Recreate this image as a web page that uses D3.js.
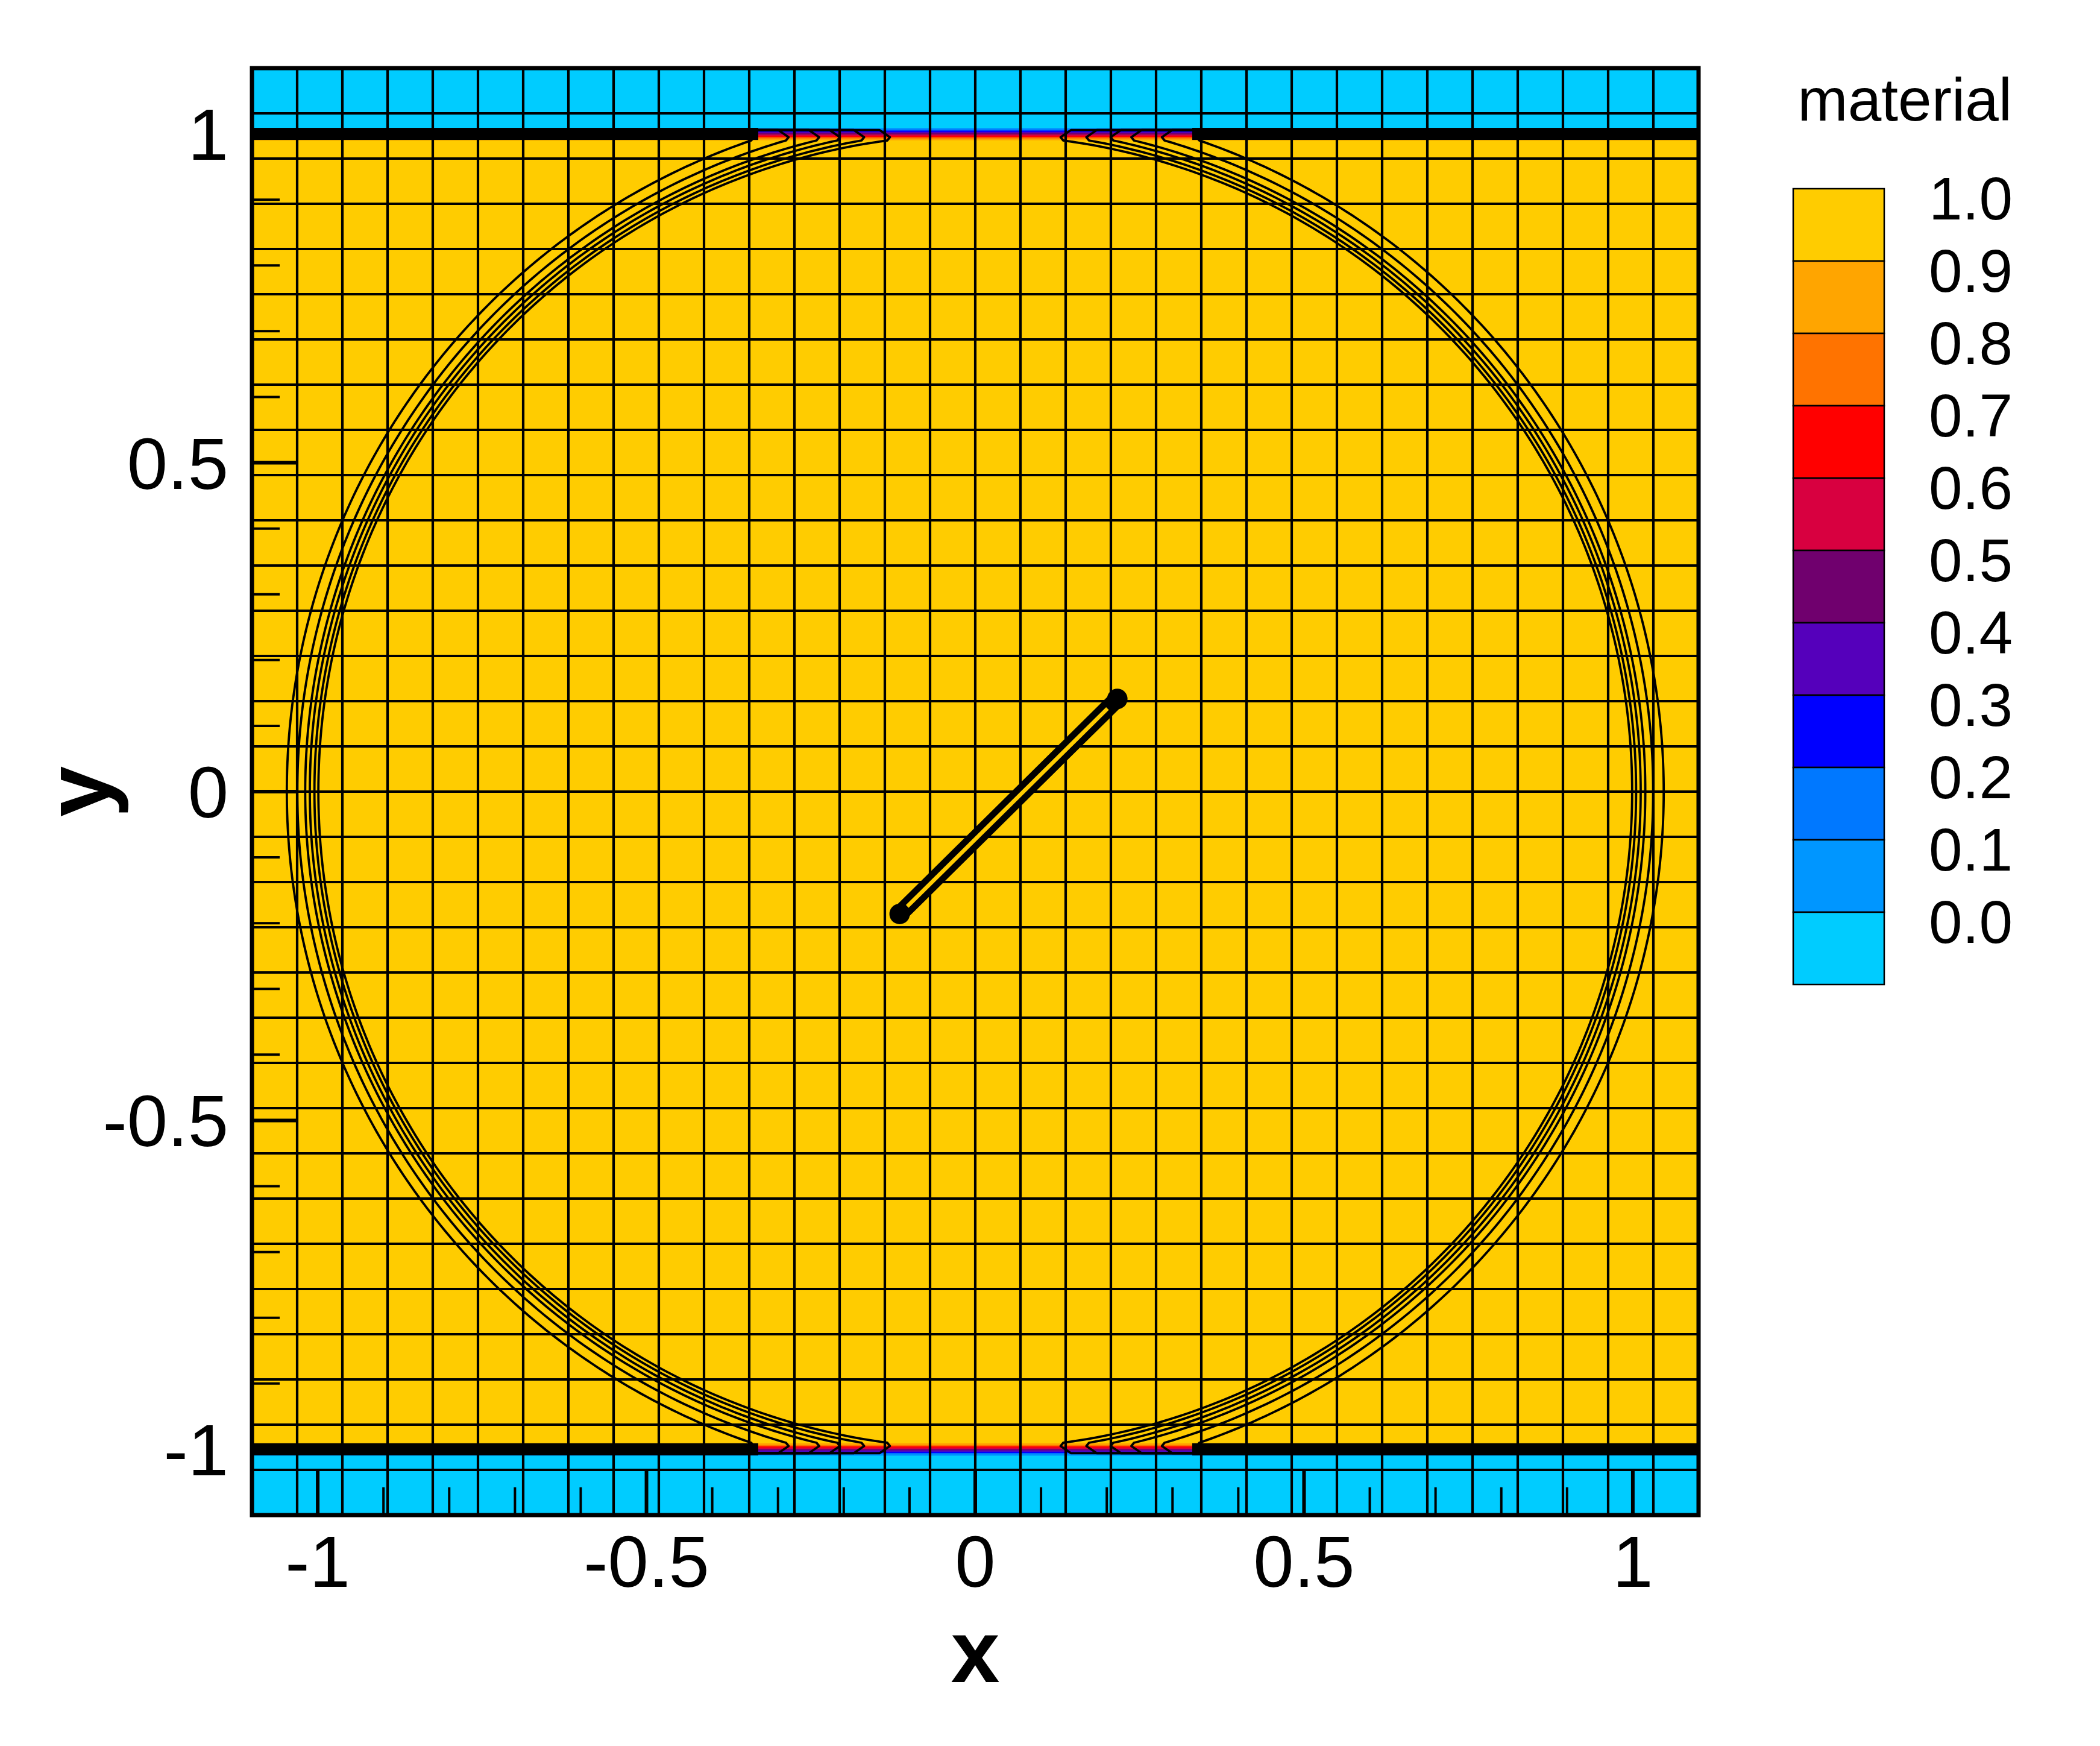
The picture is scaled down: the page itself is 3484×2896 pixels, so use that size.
<!DOCTYPE html>
<html>
<head>
<meta charset="utf-8">
<script src="https://cdn.jsdelivr.net/npm/d3@7"></script>
<style>
  html, body { margin: 0; padding: 0; background: #ffffff; }
  svg { display: block; font-family: "Liberation Sans", Arial, sans-serif; }
</style>
</head>
<body>
<svg id="chart" width="3484" height="2896"></svg>
<script>
// ---------------- data ----------------
const xDomain = [-1.1, 1.1];
const yDomain = [-1.1, 1.1];
const meshCells = 32;                       // uniform mesh, 32 x 32 cells
const xTickValues = [-1, -0.5, 0, 0.5, 1];
const xTickLabels = ["-1", "-0.5", "0", "0.5", "1"];
const yTickValues = [-1, -0.5, 0, 0.5, 1];
const yTickLabels = ["-1", "-0.5", "0", "0.5", "1"];
const minorStep = 0.1;

// material regions (value, y-range)
const regionYmin = [1.0, -1.0, -1.1];
const regionYmax = [1.1, 1.0, -1.0];
const regionValue = [0.0, 1.0, 0.0];

// contour legend
const legendLabels = ["1.0", "0.9", "0.8", "0.7", "0.6", "0.5", "0.4", "0.3", "0.2", "0.1", "0.0"];
const legendLevels = [1.0, 0.9, 0.8, 0.7, 0.6, 0.5, 0.4, 0.3, 0.2, 0.1, 0.0];
const legendColors = ["#FFCC00", "#FFA500", "#FF7300", "#FF0000", "#D80040", "#70006E",
                      "#5500BB", "#0000FF", "#0078FF", "#0096FF", "#00CCFF"];

// thin diffuse interface at the walls y = +/-1 (levels 0.1 ... 0.9, cyan side first)
const interfaceColors = ["#0096FF", "#0078FF", "#0000FF", "#5500BB", "#70006E", "#D80040", "#FF0000", "#FF7300", "#FFA500"];
const interfaceHalfWidth = 0.0092;

// circular contour lines (radius of each line)
const contourRadii = [0.999, 1.005, 1.012, 1.019, 1.031, 1.047];
const wallClipY = 0.99;       // lines turn back at the wall
const wallReturnY = 1.006;    // return branch along the wall
const wallReturnX = 0.42;
const wallBandX = 0.33;       // thick black wall band for |x| > this

// slender body in the centre
const bodyStart = [-0.115, -0.186];
const bodyEnd = [0.216, 0.141];

// ---------------- layout ----------------
const svg = d3.select("#chart");
const plot = { left: 418, top: 113, size: 2400 };
const x = d3.scaleLinear().domain(xDomain).range([plot.left, plot.left + plot.size]);
const y = d3.scaleLinear().domain(yDomain).range([plot.top + plot.size, plot.top]);

svg.append("defs").append("clipPath").attr("id", "clip")
  .append("rect").attr("x", plot.left).attr("y", plot.top)
  .attr("width", plot.size).attr("height", plot.size);

const g = svg.append("g").attr("clip-path", "url(#clip)");

// regions
g.selectAll("rect.region").data(regionValue).join("rect")
  .attr("class", "region")
  .attr("x", x(xDomain[0])).attr("width", x(xDomain[1]) - x(xDomain[0]))
  .attr("y", (d, i) => y(regionYmax[i]))
  .attr("height", (d, i) => y(regionYmin[i]) - y(regionYmax[i]))
  .attr("fill", d => d >= 1 ? legendColors[0] : legendColors[legendColors.length - 1]);

// interface bands at both walls
const bandH = 2 * interfaceHalfWidth / interfaceColors.length;
[1, -1].forEach(side => {
  g.selectAll(null).data(interfaceColors).join("rect")
    .attr("x", x(xDomain[0])).attr("width", x(xDomain[1]) - x(xDomain[0]))
    .attr("y", (d, i) => {
      const outer = side * (1 + interfaceHalfWidth) - side * i * bandH;
      const inner = outer - side * bandH;
      return y(Math.max(outer, inner));
    })
    .attr("height", y(0) - y(bandH) + 0.6)
    .attr("fill", d => d);
});

// mesh
const meshStep = (xDomain[1] - xDomain[0]) / meshCells;
const meshLines = d3.range(1, meshCells).map(k => xDomain[0] + k * meshStep);
g.selectAll("line.vmesh").data(meshLines).join("line")
  .attr("x1", d => x(d)).attr("x2", d => x(d))
  .attr("y1", y(yDomain[1])).attr("y2", y(yDomain[0]))
  .attr("stroke", "#000").attr("stroke-width", 4.2);
g.selectAll("line.hmesh").data(meshLines).join("line")
  .attr("y1", d => y(d)).attr("y2", d => y(d))
  .attr("x1", x(xDomain[0])).attr("x2", x(xDomain[1]))
  .attr("stroke", "#000").attr("stroke-width", 4.2);

// contour lines
const line = d3.line().x(d => x(d[0])).y(d => y(d[1])).curve(d3.curveLinear);
function contourPath(r, sx) {
  const a = Math.asin(wallClipY / r);
  const tip = Math.sqrt(r * r - wallClipY * wallClipY);
  const pts = [];
  pts.push([sx * wallReturnX, -wallReturnY]);
  pts.push([sx * (tip + 0.012), -wallReturnY]);
  pts.push([sx * (tip - 0.004), -(wallClipY + 0.005)]);
  d3.range(-a, a + 1e-9, (2 * a) / 240).forEach(t => {
    pts.push([sx * r * Math.cos(t), r * Math.sin(t)]);
  });
  pts.push([sx * (tip - 0.004), wallClipY + 0.005]);
  pts.push([sx * (tip + 0.012), wallReturnY]);
  pts.push([sx * wallReturnX, wallReturnY]);
  return line(pts);
}
[-1, 1].forEach(sx => {
  g.selectAll(null).data(contourRadii).join("path")
    .attr("d", r => contourPath(r, sx))
    .attr("fill", "none").attr("stroke", "#000").attr("stroke-width", 3.8)
    .attr("stroke-linejoin", "round");
});

// thick wall bands (collapsed contour lines)
[[-1, 1], [1, 1], [-1, -1], [1, -1]].forEach(([sx, sy]) => {
  const x0 = sx < 0 ? xDomain[0] : wallBandX;
  const x1 = sx < 0 ? -wallBandX : xDomain[1];
  g.append("rect")
    .attr("x", x(x0)).attr("width", x(x1) - x(x0))
    .attr("y", y(sy * 1 + interfaceHalfWidth)).attr("height", y(0) - y(2 * interfaceHalfWidth))
    .attr("fill", "#000");
  const xe = sx * wallBandX;
  g.append("path")
    .attr("d", line([[xe, sy * (1 + interfaceHalfWidth)], [xe + sx * 0.03, sy * (1 + interfaceHalfWidth * 0.7)],
                     [xe + sx * 0.03, sy * (1 + interfaceHalfWidth * 0.2)], [xe, sy * (1 - interfaceHalfWidth * 0.6)]]))
    .attr("fill", "#000");
});

// slender body
const body = svg.append("g");
body.append("line")
  .attr("x1", x(bodyStart[0])).attr("y1", y(bodyStart[1]))
  .attr("x2", x(bodyEnd[0])).attr("y2", y(bodyEnd[1]))
  .attr("stroke", "#000").attr("stroke-width", 28).attr("stroke-linecap", "round");
const lerp = (t) => [bodyStart[0] + t * (bodyEnd[0] - bodyStart[0]), bodyStart[1] + t * (bodyEnd[1] - bodyStart[1])];
const p0 = lerp(0.035), p1 = lerp(0.955);
body.append("line")
  .attr("x1", x(p0[0])).attr("y1", y(p0[1]))
  .attr("x2", x(p1[0])).attr("y2", y(p1[1]))
  .attr("stroke", "#FFCC00").attr("stroke-width", 6.5);
body.selectAll("circle").data([bodyStart, bodyEnd]).join("circle")
  .attr("cx", d => x(d[0])).attr("cy", d => y(d[1])).attr("r", 17).attr("fill", "#000");

// frame
svg.append("rect")
  .attr("x", plot.left).attr("y", plot.top).attr("width", plot.size).attr("height", plot.size)
  .attr("fill", "none").attr("stroke", "#000").attr("stroke-width", 7);

// ticks (inward, bottom and left)
const minorTicks = d3.range(-10, 11).map(k => k * minorStep);
const isMajor = v => Math.abs(v * 2 - Math.round(v * 2)) < 1e-9;
svg.selectAll("line.xtick").data(minorTicks).join("line")
  .attr("x1", d => x(d)).attr("x2", d => x(d))
  .attr("y1", y(yDomain[0])).attr("y2", d => y(yDomain[0]) - (isMajor(d) ? 77 : 46))
  .attr("stroke", "#000").attr("stroke-width", d => isMajor(d) ? 6 : 4);
svg.selectAll("line.ytick").data(minorTicks).join("line")
  .attr("y1", d => y(d)).attr("y2", d => y(d))
  .attr("x1", x(xDomain[0])).attr("x2", d => x(xDomain[0]) + (isMajor(d) ? 77 : 46))
  .attr("stroke", "#000").attr("stroke-width", d => isMajor(d) ? 6 : 4);

// tick labels
svg.selectAll("text.xl").data(xTickValues).join("text")
  .attr("x", d => x(d)).attr("y", 2632)
  .attr("text-anchor", "middle").attr("font-size", 121).attr("fill", "#000")
  .text((d, i) => xTickLabels[i]);
svg.selectAll("text.yl").data(yTickValues).join("text")
  .attr("x", 379).attr("y", d => y(d) + 43)
  .attr("text-anchor", "end").attr("font-size", 121).attr("fill", "#000")
  .text((d, i) => yTickLabels[i]);

// axis titles
svg.append("text").attr("x", x(0)).attr("y", 2790)
  .attr("text-anchor", "middle").attr("font-size", 146).attr("font-weight", "bold").text("x");
svg.append("text").attr("transform", `translate(181,${y(0)}) rotate(-90)`)
  .attr("text-anchor", "middle").attr("font-size", 152).attr("font-weight", "bold").text("y");

// legend
const lg = svg.append("g");
const ly = d3.scaleLinear().domain([1.0, 0.0]).range([313, 1513]);
const boxH = ly(0.9) - ly(1.0);
lg.selectAll("rect").data(legendLevels).join("rect")
  .attr("x", 2975).attr("width", 151)
  .attr("y", d => ly(d)).attr("height", boxH)
  .attr("fill", (d, i) => legendColors[i])
  .attr("stroke", "#000").attr("stroke-width", 2.5);
lg.selectAll("text").data(legendLevels).join("text")
  .attr("x", 3339).attr("y", d => ly(d) + 51)
  .attr("text-anchor", "end").attr("font-size", 100).attr("fill", "#000")
  .text((d, i) => legendLabels[i]);
svg.append("text").attr("x", 3338).attr("y", 200)
  .attr("text-anchor", "end").attr("font-size", 100).attr("fill", "#000").text("material");
</script>
</body>
</html>
